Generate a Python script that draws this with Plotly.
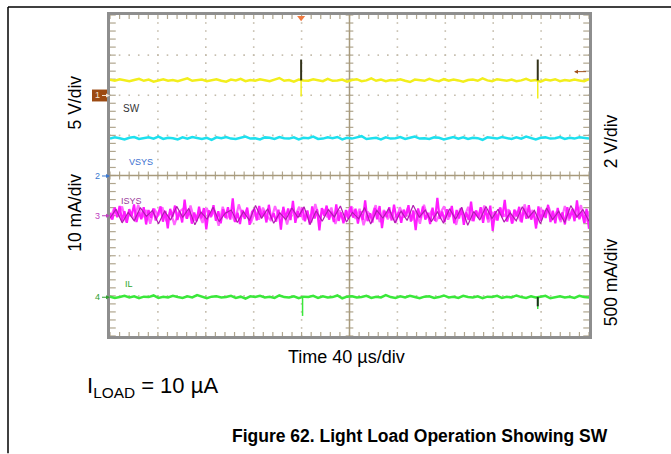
import numpy as np
import plotly.graph_objs as go

# scope screen: 10 x 8 divisions, y = 0 at the centre line
sw_level = 2.37
vsys_level = 0.93
isys_level = -0.98
il_level = -3.03

# trace noise, hundredths of a division
sw_noise = [2, -1, 3, 0, -2, 1, 4, -1, 2, -3, 0, 3, -1, 1, -2, 2, 5, -1, 0, 2,
            -2, 1, 3, -1, -3, 2, 0, 4, -2, 1, -1, 3, 0, -2, 2, 6, -1, 1, -3, 2,
            0, -1, 3, 1, -2, 4, -1, 0, 2, -3, 1, 3, -2, 0, 5, -1, 2, -2, 1, 0,
            3, -1, -4, 2, 1, -1, 4, 0, -2, 3, -1, 2, 0, -3, 1, 2, -1, 5, 0, -2,
            3, 1, -1, 2, -2, 0, 4, -1, 1, -3, 2, 0, 3, -2, 1, -1, 2, 0, -2, 3]
vsys_noise = [-1, 2, 0, -3, 1, 3, -2, 0, 2, -1, 4, -2, 1, 0, -3, 2, -1, 3, 0, -2,
              1, -4, 2, 0, 3, -1, -2, 1, 4, -1, 0, -3, 2, 1, -2, 3, 0, -1, 2, -3,
              1, 0, 4, -2, -1, 2, 0, 3, -3, 1, -1, 2, 5, -2, 0, 1, -3, 2, -1, 0,
              3, -2, 1, 4, -1, 0, -2, 2, 1, -3, 0, 3, -1, 2, -2, 1, 0, -4, 2, 1,
              -1, 3, 0, -2, 2, -1, 4, 0, -3, 1, 2, -1, 0, 3, -2, 1, -1, 2, 0, -1]
il_noise = [1, -2, 0, 3, -1, 2, -3, 1, 0, 4, -2, 1, -1, 3, 0, -2, 2, -1, 5, 0,
            -3, 1, 2, -1, 0, 3, -2, 1, -4, 2, 0, 3, -1, 1, -2, 4, 0, -1, 2, -3,
            1, 0, 3, -2, 2, -1, 0, 4, -3, 1, 2, -1, 0, 3, -2, 1, -1, 5, 0, -2,
            2, -1, 3, 0, -3, 1, 2, -2, 0, 4, -1, 1, -2, 3, 0, -1, 2, -3, 1, 0,
            3, -2, 1, -1, 4, 0, -2, 2, -1, 1, 3, -3, 0, 2, -1, 1, -2, 3, 0, -1]
isys_noise = [5, -12, 18, -6, 22, -15, 9, -20, 14, -3, 26, -18, 7, -11, 19, -24, 12, -8, 16, -14,
              3, 21, -17, 10, -34, 15, -5, 23, -13, 8, -19, 38, -10, 13, -22, 6, -16, 20, -9, 17,
              -36, 11, -4, 24, -15, 9, -21, 14, -7, 19, -12, 41, -18, 5, -23, 12, -10, 18, -25, 7,
              15, -14, 22, -6, 10, -19, 25, -11, 4, -17, 13, -37, 20, -8, 16, -13, 35, -20, 9, -5,
              18, -16, 11, -24, 21, -9, 14, -39, 17, -3, 23, -12, 8, -18, 26, -15, 6, -21, 12, -10,
              20, -7, 15, -22, 9, -13, 36, -16, 4, -19, 17, -11, 22, -33, 10, -6, 19, -14, 25, -9,
              7, -20, 13, -4, 24, -17, 11, -38, 16, -8, 21, -12, 5, -23, 18, -15, 42, -10, 8, -18,
              14, -5, 22, -21, 12, -9, 17, -25, 6, -13, 33, -16, 10, -7, 19, -20, 15, -11, 23, -40,
              9, -14, 18, -6, 37, -17, 11, -22, 13, -4, 20, -19, 16, -10, 24, -12, 7, -34, 21, -15,
              12, -8, 25, -18, 10, -21, 17, -13, 6, -24, 19, -9, 14, -16, 36, -11, 8, -20, 15, -35]
isys_light = [-11, 16, -4, 21, -18, 8, -13, 25, -7, 12, -22, 15, -2, 19, -16, 10, -25, 6, 14, -9,
              23, -14, 4, -20, 17, -6, 11, -27, 20, -10, 8, -17, 26, -5, 13, -21, 9, -12, 18, -3,
              -15, 22, -8, 12, -24, 16, -2, 20, -13, 7, -19, 27, -9, 14, -6, 18, -23, 11, -16, 5,
              21, -10, 15, -26, 8, -4, 24, -18, 12, -11, 6, -20, 19, -7, 17, -14, 10, -22, 25, -8,
              13, -17, 3, 21, -12, 9, -25, 16, -6, 20, -15, 11, -9, 23, -19, 7, -13, 18, -4, 14,
              -21, 10, -16, 26, -8, 12, -24, 17, -5, 19, -11, 8, -18, 22, -14, 15, -7, 24, -20, 9]
isys_dark = [-8, 14, -20, 6, -15, 18, -4, 11, -22, 9, -13, 21, -6, 16, -25, 7, -11, 19, -17, 4,
             12, -19, 8, -14, 23, -9, 15, -21, 5, -12, 17, -7, 20, -24, 10, -16, 13, -5, 22, -18,
             6, -10, 18, -23, 11, -8, 16, -20, 9, -14, 24, -6, 12, -17, 7, -21, 15, -11, 19, -26,
             8, -13, 21, -9, 14, -18, 5, -15, 20, -7, 11, -22, 17, -12, 9, -19, 23, -5, 13, -16]

# switching pulses seen on SW and IL
sw_pulse_time = [3.99, 8.93]
sw_pulse_top = [2.89, 2.89]
sw_pulse_bottom = [1.97, 1.92]
il_pulse_time = [4.02, 8.93]
il_pulse_dark = [il_level, -3.26]
il_pulse_bottom = [-3.5, -3.33]
trigger_time = 3.99

L, R, T, B = 110, 589, 13, 336
W, H = 671, 454


def px(x, y):
    return (x - L) / (R - L), (B - y) / (B - T)


def trace_line(noise, level, color, width):
    y = level + np.array(noise) / 100.0
    return go.Scatter(x=np.linspace(0, 10, len(noise)), y=y, mode="lines",
                      line=dict(color=color, width=width), hoverinfo="skip")


def segs(xs, y0s, y1s):
    X, Y = [], []
    for x, a, b in zip(xs, y0s, y1s):
        X += [x, x, None]
        Y += [a, b, None]
    return X, Y


data = []

# dotted graticule
gx, gy = [], []
for k in [1, 2, 3, 4, 6, 7, 8, 9]:
    for t in np.arange(-4, 4.01, 0.2):
        gx.append(k)
        gy.append(t)
for k in [-3, -2, -1, 1, 2, 3]:
    for t in np.arange(0, 10.01, 0.2):
        gx.append(t)
        gy.append(k)
data.append(go.Scatter(x=gx, y=gy, mode="markers", hoverinfo="skip",
                       marker=dict(size=1.6, color="#c4bcac", symbol="square")))

# centre cross and frame ticks
cx, cy = [], []
for t in np.arange(0, 10.01, 0.2):
    cx += [t, t, None, t, t, None, t, t, None]
    cy += [-0.1, 0.1, None, 4, 3.9, None, -4, -3.9, None]
for t in np.arange(-4, 4.01, 0.2):
    cx += [4.92, 5.08, None, 0, 0.12, None, 10, 9.88, None]
    cy += [t, t, None, t, t, None, t, t, None]
data.append(go.Scatter(x=cx, y=cy, mode="lines", hoverinfo="skip",
                       line=dict(color="#b0a68e", width=1.2)))
data.append(go.Scatter(x=[5, 5, None, 0, 10], y=[-4, 4, None, 0, 0], mode="lines",
                       hoverinfo="skip", line=dict(color="#a89a7c", width=1.5)))

# waveforms
data.append(trace_line(sw_noise, sw_level, "#f2ee1c", 2.5))
data.append(trace_line(vsys_noise, vsys_level, "#1ee0ee", 2.5))
data.append(trace_line(isys_light, isys_level, "#ff66ff", 2.2))
data.append(trace_line(isys_noise, isys_level, "#ff1cff", 2.2))
data.append(trace_line(isys_dark, isys_level, "#b01cb0", 1.2))
data.append(trace_line(il_noise, il_level, "#3ae83a", 2.5))

x, y = segs(sw_pulse_time, [sw_level] * 2, sw_pulse_bottom)
data.append(go.Scatter(x=x, y=y, mode="lines", hoverinfo="skip", line=dict(color="#f2ee1c", width=1.5)))
x, y = segs(sw_pulse_time, [sw_level] * 2, sw_pulse_top)
data.append(go.Scatter(x=x, y=y, mode="lines", hoverinfo="skip", line=dict(color="#33331a", width=2)))
x, y = segs(il_pulse_time, [il_level] * 2, il_pulse_bottom)
data.append(go.Scatter(x=x, y=y, mode="lines", hoverinfo="skip", line=dict(color="#3ae83a", width=1.5)))
x, y = segs(il_pulse_time[1:], [il_level], il_pulse_dark[1:])
data.append(go.Scatter(x=x, y=y, mode="lines", hoverinfo="skip", line=dict(color="#1a331a", width=2)))

# trigger position marker on the top edge
data.append(go.Scatter(x=[trigger_time], y=[3.93], mode="markers", hoverinfo="skip", cliponaxis=False,
                       marker=dict(symbol="triangle-down", size=7, color="#f07a40")))

font = "Liberation Sans, Arial, sans-serif"
ann = []


def text(x, y, s, size, color="#000000", angle=0, xanchor="center"):
    xx, yy = px(x, y)
    ann.append(dict(x=xx, y=yy, xref="paper", yref="paper", text=s, showarrow=False,
                    xanchor=xanchor, yanchor="middle", textangle=angle,
                    font=dict(family=font, size=size, color=color)))


def marker(x, y, s, color, ax):
    xx, yy = px(x, y)
    ann.append(dict(x=xx, y=yy, xref="paper", yref="paper", text=s, showarrow=True,
                    ax=ax, ay=0, arrowhead=2, arrowsize=0.8, arrowwidth=1, arrowcolor=color,
                    xanchor="right" if ax < 0 else "left", yanchor="middle",
                    font=dict(family=font, size=9, color=color)))


text(75, 101, "5 V/div", 17.5, angle=-90)
text(75, 212, "10 mA/div", 17.5, angle=-90)
text(611, 140, "2 V/div", 17.5, angle=-90)
text(611, 282, "500 mA/div", 17.5, angle=-90)
text(346, 357, "Time 40 µs/div", 18)
text(85, 387, "I<sub>LOAD</sub> = 10 µA", 22, xanchor="left")
text(420, 437, "<b>Figure 62. Light Load Operation Showing SW</b>", 17.5)

text(131, 107, "SW", 10, "#333333")
text(141, 161, "VSYS", 9, "#3a6fd0")
text(131, 200, "ISYS", 9, "#9a3a9a")
text(129, 284, "IL", 9, "#2ea82e")

marker(110, 94, "1", "#f4e4d4", -8)
marker(110, 175, "2", "#3a78d0", -8)
marker(110, 215, "3", "#c040c0", -8)
marker(110, 297, "4", "#30a030", -8)
marker(574, 70, " ", "#a0501a", 12)

shapes = []


def rect(x0, y0, x1, y1, color):
    a, b = px(x0, y0)
    c, d = px(x1, y1)
    shapes.append(dict(type="rect", xref="paper", yref="paper", x0=a, y0=b, x1=c, y1=d,
                       fillcolor=color, line=dict(width=0), layer="below"))


def line(x0, y0, x1, y1):
    a, b = px(x0, y0)
    c, d = px(x1, y1)
    shapes.append(dict(type="line", xref="paper", yref="paper", x0=a, y0=b, x1=c, y1=d,
                       line=dict(color="#000000", width=1.5)))


rect(92, 88, 110, 100, "#9c4a12")
line(8, 5, 671, 5)
line(8, 5, 8, 454)

axis = dict(showgrid=False, zeroline=False, showticklabels=False, ticks="",
            showline=True, linecolor="#8e8e8e", linewidth=2.5, mirror=True, fixedrange=True)

layout = go.Layout(
    width=W, height=H, showlegend=False,
    margin=dict(l=L, r=W - R, t=T, b=H - B),
    paper_bgcolor="white", plot_bgcolor="white",
    xaxis=dict(axis, range=[0, 10]),
    yaxis=dict(axis, range=[-4, 4]),
    annotations=ann, shapes=shapes,
)

fig = go.Figure(data=data, layout=layout)
fig.write_html("out.html", config={"displayModeBar": False},
               post_script="document.body.style.margin='0';")
